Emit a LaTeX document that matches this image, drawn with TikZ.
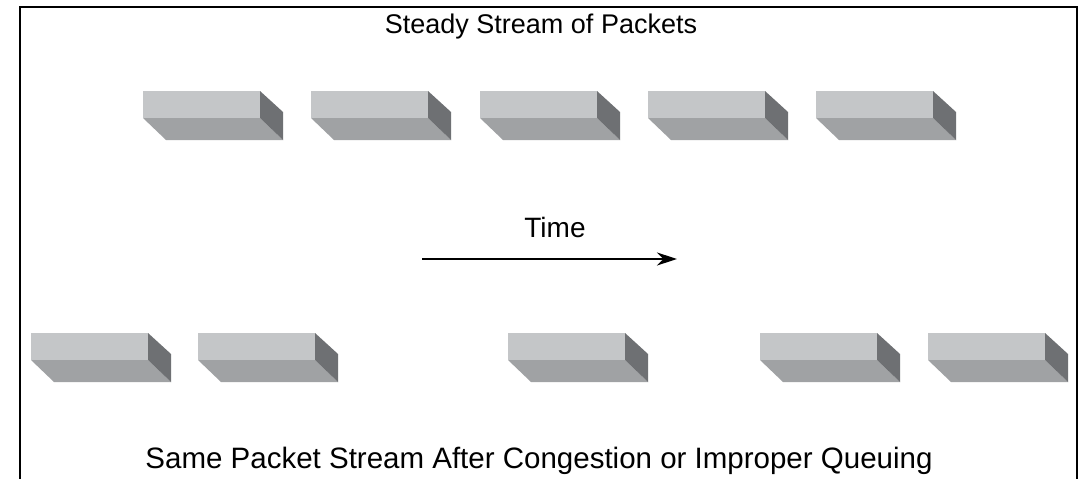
\documentclass[tikz,border=0pt]{standalone}
\usepackage{fontspec}
\setmainfont{Liberation Sans}
\usetikzlibrary{arrows.meta}
\definecolor{pfront}{HTML}{C4C6C8}
\definecolor{pbottom}{HTML}{A0A2A4}
\definecolor{pside}{HTML}{6E7073}
\begin{document}
\begin{tikzpicture}[x=1pt,y=-1pt,
  packet/.pic={
    \fill[pfront] (0,0) rectangle (117,27);
    \fill[pbottom] (0,27) -- (117,27) -- (140,49) -- (23,49) -- cycle;
    \fill[pside] (117,0) -- (140,21) -- (140,49) -- (117,27) -- cycle;
  },
  lbl/.style={inner sep=0pt, anchor=base},
  frame/.style={line width=2pt},
  timearrow/.style={line width=1.6pt, -{Stealth[length=20pt,width=13pt]}}
]
\useasboundingbox (0,0) rectangle (1084,479);
\fill[white] (0,0) rectangle (1084,479);
\draw[frame] (20,479) -- (20,7) -- (1077,7) -- (1077,479);

\node[lbl, font=\fontsize{27}{31}\selectfont] (title) at (541,33) {Steady Stream of Packets};

\pic (t1) at (143,91) {packet};
\pic (t2) at (311,91) {packet};
\pic (t3) at (480,91) {packet};
\pic (t4) at (648,91) {packet};
\pic (t5) at (816,91) {packet};

\node[lbl, font=\fontsize{28}{32}\selectfont] (time) at (555,237) {Time};
\coordinate (ts) at (422,259);
\coordinate (te) at (677,259);
\draw[timearrow] (ts) -- (te);

\pic (b1) at (31,333) {packet};
\pic (b2) at (198,333) {packet};
\pic (b3) at (508,333) {packet};
\pic (b4) at (760,333) {packet};
\pic (b5) at (928,333) {packet};

\node[lbl, font=\fontsize{29.5}{33}\selectfont] (caption) at (539,468) {Same Packet Stream After Congestion or Improper Queuing};
\end{tikzpicture}
\end{document}
